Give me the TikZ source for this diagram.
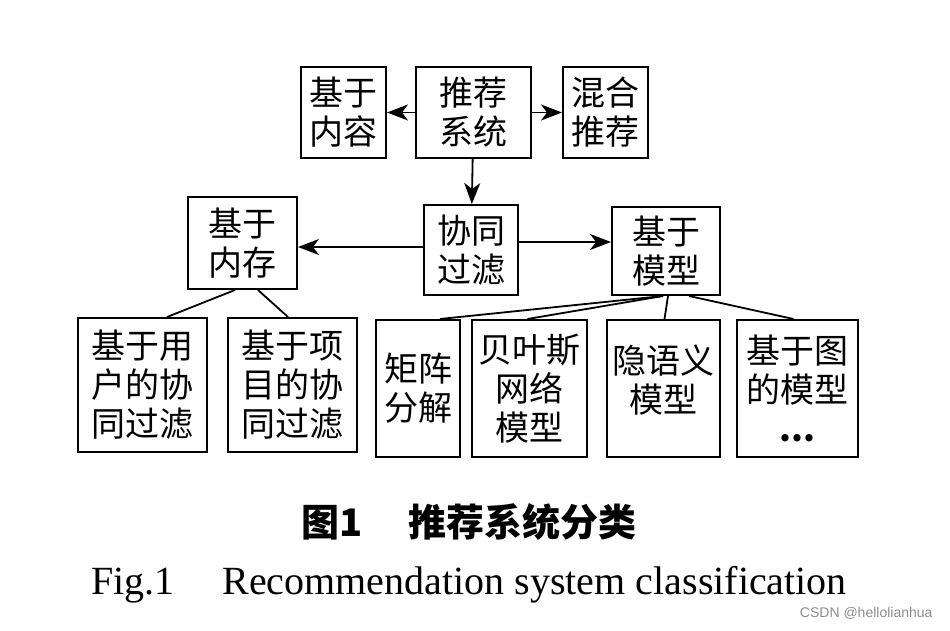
\documentclass[tikz,border=0pt]{standalone}
\usepackage{fontspec}
\setmainfont{Liberation Serif}
\setsansfont{Liberation Sans}
\newfontfamily\cjk{Noto Sans CJK SC}
\usetikzlibrary{arrows.meta,calc,positioning}

\begin{document}
\begin{tikzpicture}[x=1pt, y=-1pt,
    box/.style={draw, line width=2pt, align=center, inner sep=0pt,
        font=\cjk\fontsize{34}{39}\selectfont},
    link/.style={line width=1.8pt},
    arr/.style={line width=1.8pt, -{Stealth[length=21pt,width=16pt,inset=6pt]}}]
    \useasboundingbox (0,0) rectangle (950,631);
    \node[box, minimum width=115pt, minimum height=91pt] (sys) at (473.5, 112.5) {推荐\\系统};
    \node[box, minimum width=85pt, minimum height=91pt] (content) at (343.5, 112.5) {基于\\内容};
    \node[box, minimum width=85pt, minimum height=91pt] (hybrid) at (605.5, 112.5) {混合\\推荐};
    \node[box, minimum width=94pt, minimum height=90pt] (cf) at (471, 250) {协同\\过滤};
    \node[box, minimum width=109pt, minimum height=92pt] (mem) at (242.5, 243) {基于\\内存};
    \node[box, minimum width=108pt, minimum height=88pt] (model) at (666, 251) {基于\\模型};
    \node[box, minimum width=129pt, minimum height=134pt] (user) at (142.5, 385) {基于用\\户的协\\同过滤};
    \node[box, minimum width=129pt, minimum height=134pt] (item) at (292.5, 385) {基于项\\目的协\\同过滤};
    \node[box, minimum width=84pt, minimum height=137pt] (mf) at (418, 388.5) {矩阵\\分解};
    \node[box, minimum width=115pt, minimum height=137pt] (bayes) at (529.5, 388.5) {贝叶斯\\网络\\模型};
    \node[box, minimum width=113pt, minimum height=137pt, text depth=19pt] (lsm) at (663.5, 388.5) {隐语义\\模型};
    \node[box, minimum width=121pt, minimum height=137pt] (graph) at (797.5, 388.5) {基于图\\的模型\\\textbf{...}};
    \draw[arr] (sys) -- (content);
    \draw[arr] (sys) -- (hybrid);
    \draw[arr] (sys) -- (cf);
    \draw[arr] ($(cf.west)+(0,-3)$) coordinate (cfw) -- (cfw -| mem.east);
    \draw[arr] ($(cf.east)+(0,-8)$) coordinate (cfe) -- (cfe -| model.west);
    \draw[link] ($(mem.south)+(-7.5,0)$) -- ($(user.north)+(24.5,0)$);
    \draw[link] ($(mem.south)+(15.5,0)$) -- ($(item.north)+(-4.5,0)$);
    \draw[link] ($(model.south)+(-3,0)$) -- ($(mf.north)+(22,0)$);
    \draw[link] ($(model.south)+(-3,0)$) -- ($(bayes.north)+(-2,0)$);
    \draw[link] ($(model.south)+(2,0)$) -- ($(lsm.north)+(1,0)$);
    \draw[link] ($(model.south)+(23,0)$) -- ($(graph.north)+(-4,0)$);
    % caption
    \node[font=\cjk\bfseries\fontsize{38}{42}\selectfont] (title) at (469, 522) {图1\hspace{46pt}推荐系统分类};
    \node[font=\fontsize{40}{44}\selectfont] (entitle) at (469, 585) {Fig.1\hspace{48pt}Recommendation system classification};
    \node[font=\sffamily\fontsize{14}{16}\selectfont, text=black!45, anchor=east] (mark) at (936, 613) {CSDN @hellolianhua};
\end{tikzpicture}
\end{document}
